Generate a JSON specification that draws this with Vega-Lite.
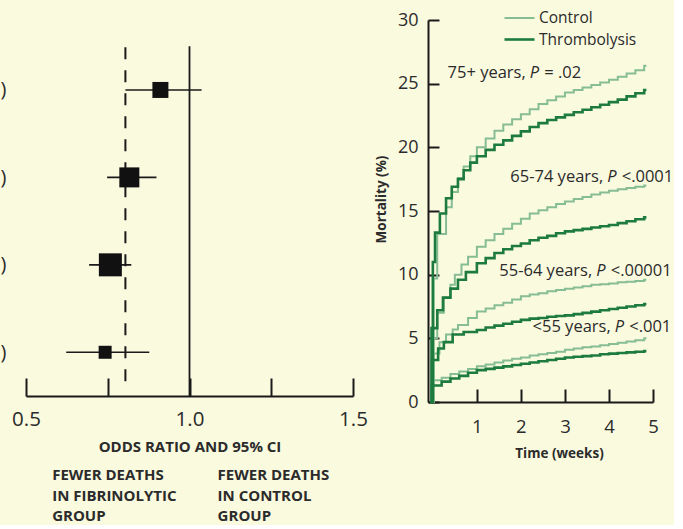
{
"$schema":"https://vega.github.io/schema/vega-lite/v6.json",
"background":"#fafadf",
"padding":{"left":0,"top":7,"right":0,"bottom":0},
"bounds":"flush",
"spacing":75,
"config":{"font":"Open Sans","view":{"stroke":null},
 "axis":{"grid":false,"labelColor":"#2b2b2b","titleColor":"#2b2b2b","domainColor":"#1a1a1a","tickColor":"#1a1a1a","labelFont":"Open Sans","titleFont":"Open Sans","labelFlush":false,"labelOverlap":false},
 "text":{"font":"Open Sans","color":"#2b2b2b"}},
"datasets":{
"forest":[
{"age":"75+","row":4,"or":0.911,"lo":0.804,"hi":1.037,"weight":2.56},
{"age":"65-74","row":3,"or":0.816,"lo":0.748,"hi":0.899,"weight":4.0},
{"age":"55-64","row":2,"or":0.758,"lo":0.693,"hi":0.822,"weight":5.29},
{"age":"<55","row":1,"or":0.742,"lo":0.623,"hi":0.877,"weight":1.69}],
"refs":[{"kind":"no effect","or":1.0,"from":0.5,"to":4.5},{"kind":"overall","or":0.804,"from":0.67,"to":4.5}],
"captions":[{"x":0.58,"y":-0.466,"text":"FEWER DEATHS\nIN FIBRINOLYTIC\nGROUP"},{"x":1.086,"y":-0.466,"text":"FEWER DEATHS\nIN CONTROL\nGROUP"}],
"notes":[
{"age":"75+","week":2.2,"mortality":25.8,"pre":"75+ years,","post":"= .02"},
{"age":"65-74","week":3.96,"mortality":17.7,"pre":"65-74 years,","post":"<.0001"},
{"age":"55-64","week":3.71,"mortality":10.3,"pre":"55-64 years,","post":"<.00001"},
{"age":"<55","week":4.13,"mortality":5.9,"pre":"<55 years,","post":"<.001"}],
"km":[
{"age":"75+","arm":"Control","week":-0.05,"mortality":0},{"age":"75+","arm":"Control","week":0.02,"mortality":9.7},{"age":"75+","arm":"Control","week":0.1,"mortality":13.2},{"age":"75+","arm":"Control","week":0.3,"mortality":15.3},{"age":"75+","arm":"Control","week":0.43,"mortality":16.5},{"age":"75+","arm":"Control","week":0.57,"mortality":17.6},{"age":"75+","arm":"Control","week":0.7,"mortality":18.5},{"age":"75+","arm":"Control","week":0.85,"mortality":19.3},{"age":"75+","arm":"Control","week":1.0,"mortality":20.0},{"age":"75+","arm":"Control","week":1.2,"mortality":20.7},{"age":"75+","arm":"Control","week":1.4,"mortality":21.3},{"age":"75+","arm":"Control","week":1.6,"mortality":21.8},{"age":"75+","arm":"Control","week":1.8,"mortality":22.2},{"age":"75+","arm":"Control","week":2.0,"mortality":22.6},{"age":"75+","arm":"Control","week":2.2,"mortality":23.0},{"age":"75+","arm":"Control","week":2.4,"mortality":23.4},{"age":"75+","arm":"Control","week":2.6,"mortality":23.7},{"age":"75+","arm":"Control","week":2.8,"mortality":24.0},{"age":"75+","arm":"Control","week":3.0,"mortality":24.3},{"age":"75+","arm":"Control","week":3.2,"mortality":24.5},{"age":"75+","arm":"Control","week":3.4,"mortality":24.7},{"age":"75+","arm":"Control","week":3.6,"mortality":24.9},{"age":"75+","arm":"Control","week":3.8,"mortality":25.1},{"age":"75+","arm":"Control","week":4.0,"mortality":25.3},{"age":"75+","arm":"Control","week":4.2,"mortality":25.55},{"age":"75+","arm":"Control","week":4.4,"mortality":25.8},{"age":"75+","arm":"Control","week":4.6,"mortality":26.05},{"age":"75+","arm":"Control","week":4.8,"mortality":26.4},{"age":"75+","arm":"Control","week":4.85,"mortality":26.4},
{"age":"65-74","arm":"Control","week":-0.05,"mortality":0},{"age":"65-74","arm":"Control","week":0.0,"mortality":5.0},{"age":"65-74","arm":"Control","week":0.1,"mortality":7.0},{"age":"65-74","arm":"Control","week":0.25,"mortality":8.2},{"age":"65-74","arm":"Control","week":0.4,"mortality":9.2},{"age":"65-74","arm":"Control","week":0.5,"mortality":10.0},{"age":"65-74","arm":"Control","week":0.65,"mortality":10.8},{"age":"65-74","arm":"Control","week":0.8,"mortality":11.4},{"age":"65-74","arm":"Control","week":1.0,"mortality":12.2},{"age":"65-74","arm":"Control","week":1.2,"mortality":12.7},{"age":"65-74","arm":"Control","week":1.4,"mortality":13.2},{"age":"65-74","arm":"Control","week":1.6,"mortality":13.6},{"age":"65-74","arm":"Control","week":1.8,"mortality":14.0},{"age":"65-74","arm":"Control","week":2.0,"mortality":14.4},{"age":"65-74","arm":"Control","week":2.2,"mortality":14.8},{"age":"65-74","arm":"Control","week":2.4,"mortality":15.05},{"age":"65-74","arm":"Control","week":2.6,"mortality":15.3},{"age":"65-74","arm":"Control","week":2.8,"mortality":15.55},{"age":"65-74","arm":"Control","week":3.0,"mortality":15.75},{"age":"65-74","arm":"Control","week":3.2,"mortality":15.95},{"age":"65-74","arm":"Control","week":3.4,"mortality":16.1},{"age":"65-74","arm":"Control","week":3.6,"mortality":16.3},{"age":"65-74","arm":"Control","week":3.8,"mortality":16.45},{"age":"65-74","arm":"Control","week":4.0,"mortality":16.6},{"age":"65-74","arm":"Control","week":4.2,"mortality":16.7},{"age":"65-74","arm":"Control","week":4.4,"mortality":16.8},{"age":"65-74","arm":"Control","week":4.6,"mortality":16.9},{"age":"65-74","arm":"Control","week":4.8,"mortality":17.0},{"age":"65-74","arm":"Control","week":4.85,"mortality":17.0},
{"age":"55-64","arm":"Control","week":-0.05,"mortality":0},{"age":"55-64","arm":"Control","week":0.02,"mortality":3.8},{"age":"55-64","arm":"Control","week":0.15,"mortality":4.7},{"age":"55-64","arm":"Control","week":0.3,"mortality":5.3},{"age":"55-64","arm":"Control","week":0.45,"mortality":5.7},{"age":"55-64","arm":"Control","week":0.57,"mortality":6.05},{"age":"55-64","arm":"Control","week":0.8,"mortality":6.6},{"age":"55-64","arm":"Control","week":1.0,"mortality":7.1},{"age":"55-64","arm":"Control","week":1.2,"mortality":7.35},{"age":"55-64","arm":"Control","week":1.4,"mortality":7.6},{"age":"55-64","arm":"Control","week":1.6,"mortality":7.8},{"age":"55-64","arm":"Control","week":1.8,"mortality":8.05},{"age":"55-64","arm":"Control","week":2.0,"mortality":8.3},{"age":"55-64","arm":"Control","week":2.2,"mortality":8.45},{"age":"55-64","arm":"Control","week":2.4,"mortality":8.55},{"age":"55-64","arm":"Control","week":2.6,"mortality":8.7},{"age":"55-64","arm":"Control","week":2.8,"mortality":8.8},{"age":"55-64","arm":"Control","week":3.0,"mortality":8.9},{"age":"55-64","arm":"Control","week":3.2,"mortality":9.0},{"age":"55-64","arm":"Control","week":3.4,"mortality":9.1},{"age":"55-64","arm":"Control","week":3.6,"mortality":9.2},{"age":"55-64","arm":"Control","week":3.8,"mortality":9.25},{"age":"55-64","arm":"Control","week":4.0,"mortality":9.3},{"age":"55-64","arm":"Control","week":4.2,"mortality":9.4},{"age":"55-64","arm":"Control","week":4.4,"mortality":9.45},{"age":"55-64","arm":"Control","week":4.6,"mortality":9.5},{"age":"55-64","arm":"Control","week":4.8,"mortality":9.6},{"age":"55-64","arm":"Control","week":4.85,"mortality":9.6},
{"age":"<55","arm":"Control","week":-0.05,"mortality":0},{"age":"<55","arm":"Control","week":0.0,"mortality":1.7},{"age":"<55","arm":"Control","week":0.2,"mortality":1.9},{"age":"<55","arm":"Control","week":0.4,"mortality":2.2},{"age":"<55","arm":"Control","week":0.6,"mortality":2.4},{"age":"<55","arm":"Control","week":0.8,"mortality":2.6},{"age":"<55","arm":"Control","week":1.0,"mortality":2.8},{"age":"<55","arm":"Control","week":1.2,"mortality":2.95},{"age":"<55","arm":"Control","week":1.4,"mortality":3.1},{"age":"<55","arm":"Control","week":1.6,"mortality":3.25},{"age":"<55","arm":"Control","week":1.8,"mortality":3.4},{"age":"<55","arm":"Control","week":2.0,"mortality":3.5},{"age":"<55","arm":"Control","week":2.2,"mortality":3.65},{"age":"<55","arm":"Control","week":2.4,"mortality":3.75},{"age":"<55","arm":"Control","week":2.6,"mortality":3.85},{"age":"<55","arm":"Control","week":2.8,"mortality":3.95},{"age":"<55","arm":"Control","week":3.0,"mortality":4.1},{"age":"<55","arm":"Control","week":3.2,"mortality":4.2},{"age":"<55","arm":"Control","week":3.4,"mortality":4.3},{"age":"<55","arm":"Control","week":3.6,"mortality":4.35},{"age":"<55","arm":"Control","week":3.8,"mortality":4.45},{"age":"<55","arm":"Control","week":4.0,"mortality":4.55},{"age":"<55","arm":"Control","week":4.2,"mortality":4.65},{"age":"<55","arm":"Control","week":4.4,"mortality":4.75},{"age":"<55","arm":"Control","week":4.6,"mortality":4.85},{"age":"<55","arm":"Control","week":4.8,"mortality":5.0},{"age":"<55","arm":"Control","week":4.85,"mortality":5.0},
{"age":"75+","arm":"Thrombolysis","week":-0.06,"mortality":0},{"age":"75+","arm":"Thrombolysis","week":0.0,"mortality":11.0},{"age":"75+","arm":"Thrombolysis","week":0.05,"mortality":13.3},{"age":"75+","arm":"Thrombolysis","week":0.16,"mortality":14.8},{"age":"75+","arm":"Thrombolysis","week":0.3,"mortality":16.0},{"age":"75+","arm":"Thrombolysis","week":0.43,"mortality":16.9},{"age":"75+","arm":"Thrombolysis","week":0.57,"mortality":17.5},{"age":"75+","arm":"Thrombolysis","week":0.7,"mortality":18.2},{"age":"75+","arm":"Thrombolysis","week":0.85,"mortality":18.8},{"age":"75+","arm":"Thrombolysis","week":1.0,"mortality":19.3},{"age":"75+","arm":"Thrombolysis","week":1.2,"mortality":19.8},{"age":"75+","arm":"Thrombolysis","week":1.4,"mortality":20.2},{"age":"75+","arm":"Thrombolysis","week":1.6,"mortality":20.55},{"age":"75+","arm":"Thrombolysis","week":1.8,"mortality":20.9},{"age":"75+","arm":"Thrombolysis","week":2.0,"mortality":21.25},{"age":"75+","arm":"Thrombolysis","week":2.2,"mortality":21.6},{"age":"75+","arm":"Thrombolysis","week":2.4,"mortality":21.9},{"age":"75+","arm":"Thrombolysis","week":2.6,"mortality":22.15},{"age":"75+","arm":"Thrombolysis","week":2.8,"mortality":22.35},{"age":"75+","arm":"Thrombolysis","week":3.0,"mortality":22.55},{"age":"75+","arm":"Thrombolysis","week":3.2,"mortality":22.75},{"age":"75+","arm":"Thrombolysis","week":3.4,"mortality":22.95},{"age":"75+","arm":"Thrombolysis","week":3.6,"mortality":23.15},{"age":"75+","arm":"Thrombolysis","week":3.8,"mortality":23.35},{"age":"75+","arm":"Thrombolysis","week":4.0,"mortality":23.55},{"age":"75+","arm":"Thrombolysis","week":4.2,"mortality":23.75},{"age":"75+","arm":"Thrombolysis","week":4.4,"mortality":24.0},{"age":"75+","arm":"Thrombolysis","week":4.6,"mortality":24.25},{"age":"75+","arm":"Thrombolysis","week":4.8,"mortality":24.5},{"age":"75+","arm":"Thrombolysis","week":4.85,"mortality":24.5},
{"age":"65-74","arm":"Thrombolysis","week":-0.06,"mortality":0},{"age":"65-74","arm":"Thrombolysis","week":-0.03,"mortality":5.8},{"age":"65-74","arm":"Thrombolysis","week":0.1,"mortality":7.2},{"age":"65-74","arm":"Thrombolysis","week":0.23,"mortality":8.2},{"age":"65-74","arm":"Thrombolysis","week":0.4,"mortality":8.9},{"age":"65-74","arm":"Thrombolysis","week":0.57,"mortality":9.6},{"age":"65-74","arm":"Thrombolysis","week":0.75,"mortality":10.2},{"age":"65-74","arm":"Thrombolysis","week":1.0,"mortality":10.9},{"age":"65-74","arm":"Thrombolysis","week":1.2,"mortality":11.3},{"age":"65-74","arm":"Thrombolysis","week":1.4,"mortality":11.7},{"age":"65-74","arm":"Thrombolysis","week":1.6,"mortality":12.0},{"age":"65-74","arm":"Thrombolysis","week":1.8,"mortality":12.25},{"age":"65-74","arm":"Thrombolysis","week":2.0,"mortality":12.45},{"age":"65-74","arm":"Thrombolysis","week":2.2,"mortality":12.7},{"age":"65-74","arm":"Thrombolysis","week":2.4,"mortality":12.9},{"age":"65-74","arm":"Thrombolysis","week":2.6,"mortality":13.05},{"age":"65-74","arm":"Thrombolysis","week":2.8,"mortality":13.25},{"age":"65-74","arm":"Thrombolysis","week":3.0,"mortality":13.4},{"age":"65-74","arm":"Thrombolysis","week":3.2,"mortality":13.5},{"age":"65-74","arm":"Thrombolysis","week":3.4,"mortality":13.6},{"age":"65-74","arm":"Thrombolysis","week":3.6,"mortality":13.7},{"age":"65-74","arm":"Thrombolysis","week":3.8,"mortality":13.8},{"age":"65-74","arm":"Thrombolysis","week":4.0,"mortality":13.9},{"age":"65-74","arm":"Thrombolysis","week":4.2,"mortality":14.05},{"age":"65-74","arm":"Thrombolysis","week":4.4,"mortality":14.2},{"age":"65-74","arm":"Thrombolysis","week":4.6,"mortality":14.35},{"age":"65-74","arm":"Thrombolysis","week":4.8,"mortality":14.5},{"age":"65-74","arm":"Thrombolysis","week":4.85,"mortality":14.5},
{"age":"55-64","arm":"Thrombolysis","week":-0.06,"mortality":0},{"age":"55-64","arm":"Thrombolysis","week":-0.02,"mortality":3.3},{"age":"55-64","arm":"Thrombolysis","week":0.12,"mortality":4.2},{"age":"55-64","arm":"Thrombolysis","week":0.25,"mortality":4.7},{"age":"55-64","arm":"Thrombolysis","week":0.45,"mortality":5.3},{"age":"55-64","arm":"Thrombolysis","week":0.7,"mortality":5.5},{"age":"55-64","arm":"Thrombolysis","week":1.0,"mortality":5.65},{"age":"55-64","arm":"Thrombolysis","week":1.2,"mortality":5.85},{"age":"55-64","arm":"Thrombolysis","week":1.4,"mortality":6.0},{"age":"55-64","arm":"Thrombolysis","week":1.6,"mortality":6.15},{"age":"55-64","arm":"Thrombolysis","week":1.8,"mortality":6.3},{"age":"55-64","arm":"Thrombolysis","week":2.0,"mortality":6.45},{"age":"55-64","arm":"Thrombolysis","week":2.2,"mortality":6.55},{"age":"55-64","arm":"Thrombolysis","week":2.4,"mortality":6.6},{"age":"55-64","arm":"Thrombolysis","week":2.6,"mortality":6.7},{"age":"55-64","arm":"Thrombolysis","week":2.8,"mortality":6.75},{"age":"55-64","arm":"Thrombolysis","week":3.0,"mortality":6.8},{"age":"55-64","arm":"Thrombolysis","week":3.2,"mortality":6.9},{"age":"55-64","arm":"Thrombolysis","week":3.4,"mortality":7.0},{"age":"55-64","arm":"Thrombolysis","week":3.6,"mortality":7.1},{"age":"55-64","arm":"Thrombolysis","week":3.8,"mortality":7.2},{"age":"55-64","arm":"Thrombolysis","week":4.0,"mortality":7.3},{"age":"55-64","arm":"Thrombolysis","week":4.2,"mortality":7.4},{"age":"55-64","arm":"Thrombolysis","week":4.4,"mortality":7.5},{"age":"55-64","arm":"Thrombolysis","week":4.6,"mortality":7.6},{"age":"55-64","arm":"Thrombolysis","week":4.8,"mortality":7.7},{"age":"55-64","arm":"Thrombolysis","week":4.85,"mortality":7.7},
{"age":"<55","arm":"Thrombolysis","week":-0.06,"mortality":0},{"age":"<55","arm":"Thrombolysis","week":-0.02,"mortality":1.3},{"age":"<55","arm":"Thrombolysis","week":0.2,"mortality":1.6},{"age":"<55","arm":"Thrombolysis","week":0.4,"mortality":1.85},{"age":"<55","arm":"Thrombolysis","week":0.6,"mortality":2.05},{"age":"<55","arm":"Thrombolysis","week":0.8,"mortality":2.3},{"age":"<55","arm":"Thrombolysis","week":1.0,"mortality":2.5},{"age":"<55","arm":"Thrombolysis","week":1.2,"mortality":2.6},{"age":"<55","arm":"Thrombolysis","week":1.4,"mortality":2.7},{"age":"<55","arm":"Thrombolysis","week":1.6,"mortality":2.8},{"age":"<55","arm":"Thrombolysis","week":1.8,"mortality":2.9},{"age":"<55","arm":"Thrombolysis","week":2.0,"mortality":3.0},{"age":"<55","arm":"Thrombolysis","week":2.2,"mortality":3.1},{"age":"<55","arm":"Thrombolysis","week":2.4,"mortality":3.2},{"age":"<55","arm":"Thrombolysis","week":2.6,"mortality":3.3},{"age":"<55","arm":"Thrombolysis","week":2.8,"mortality":3.4},{"age":"<55","arm":"Thrombolysis","week":3.0,"mortality":3.5},{"age":"<55","arm":"Thrombolysis","week":3.2,"mortality":3.55},{"age":"<55","arm":"Thrombolysis","week":3.4,"mortality":3.6},{"age":"<55","arm":"Thrombolysis","week":3.6,"mortality":3.65},{"age":"<55","arm":"Thrombolysis","week":3.8,"mortality":3.75},{"age":"<55","arm":"Thrombolysis","week":4.0,"mortality":3.8},{"age":"<55","arm":"Thrombolysis","week":4.2,"mortality":3.85},{"age":"<55","arm":"Thrombolysis","week":4.4,"mortality":3.9},{"age":"<55","arm":"Thrombolysis","week":4.6,"mortality":3.95},{"age":"<55","arm":"Thrombolysis","week":4.8,"mortality":4.0},{"age":"<55","arm":"Thrombolysis","week":4.85,"mortality":4.0}
]},
"hconcat":[
{"width":327,"height":376,
 "layer":[
  {"data":{"name":"refs"},"transform":[{"filter":"datum.kind == 'no effect'"}],
   "mark":{"type":"rule","color":"#1a1a1a","strokeWidth":1.8},
   "encoding":{
    "x":{"field":"or","type":"quantitative","scale":{"domain":[0.5,1.5],"nice":false,"zero":false},
      "axis":{"values":[0.5,0.75,1,1.25,1.5],"labelExpr":"datum.value == 0.75 || datum.value == 1.25 ? '' : format(datum.value, '.1f')","tickSize":-18,"tickWidth":2,"domainWidth":2,"labelFontSize":20.5,"labelPadding":31,"title":"ODDS RATIO AND 95% CI","titleFontSize":15,"titleFontWeight":"bold","titlePadding":10}},
    "y":{"field":"from","type":"quantitative","scale":{"domain":[0.5,4.8],"nice":false,"zero":false},
      "axis":{"values":[1,2,3,4],"labelExpr":"')'","domain":false,"ticks":false,"labelFontSize":20,"labelPadding":20,"title":null}},
    "y2":{"field":"to"}}},
  {"data":{"name":"refs"},"transform":[{"filter":"datum.kind == 'overall'"}],
   "mark":{"type":"rule","color":"#1a1a1a","strokeWidth":2,"strokeDash":[12,11]},
   "encoding":{"x":{"field":"or","type":"quantitative"},"y":{"field":"from","type":"quantitative"},"y2":{"field":"to"}}},
  {"data":{"name":"forest"},
   "mark":{"type":"rule","color":"#1a1a1a","strokeWidth":1.6},
   "encoding":{"x":{"field":"lo","type":"quantitative"},"x2":{"field":"hi"},"y":{"field":"row","type":"quantitative"}}},
  {"data":{"name":"forest"},
   "mark":{"type":"square","color":"#111111","opacity":1,"filled":true},
   "encoding":{"x":{"field":"or","type":"quantitative"},"y":{"field":"row","type":"quantitative"},
    "size":{"field":"weight","type":"quantitative","scale":{"domain":[0,5.29],"range":[0,529]},"legend":null}}},
  {"mark":{"type":"rule","color":"#1a1a1a","strokeWidth":1.8},
   "encoding":{"x":{"datum":0.5,"type":"quantitative"},"x2":{"datum":1.5},"y":{"datum":-0.232,"type":"quantitative"}}},
  {"data":{"name":"captions"},
   "mark":{"type":"text","align":"left","baseline":"alphabetic","fontSize":15,"fontWeight":"bold","lineBreak":"\n","lineHeight":20.5},
   "encoding":{"x":{"field":"x","type":"quantitative"},"y":{"field":"y","type":"quantitative"},"text":{"field":"text"}}}
 ]},
{"width":225,"height":382,
 "layer":[
  {"data":{"name":"km"},
   "mark":{"type":"line","interpolate":"step-after"},
   "encoding":{
    "x":{"field":"week","type":"quantitative","scale":{"domain":[-0.11,5],"nice":false,"zero":false},
      "axis":{"values":[1,2,3,4,5],"tickSize":-13,"tickWidth":2,"domainWidth":2,"labelFontSize":18.5,"labelPadding":28,"title":"Time (weeks)","titleFontSize":13.5,"titleFontWeight":"bold","titlePadding":11,"titleX":131}},
    "y":{"field":"mortality","type":"quantitative","scale":{"domain":[0,30],"nice":false},
      "axis":{"values":[0,5,10,15,20,25,30],"tickSize":-11,"tickWidth":2,"domainWidth":2,"labelFontSize":18,"labelPadding":21,"title":"Mortality (%)","titleFontSize":13.5,"titleFontWeight":"bold","titleX":-47,"titleY":179,"titleBaseline":"middle"}},
    "color":{"field":"arm","type":"nominal","scale":{"domain":["Control","Thrombolysis"],"range":["#86bd93","#1d7b3f"]},
      "legend":{"title":null,"orient":"none","legendX":482,"legendY":-13,"symbolType":"M-1.5,0L1.5,0","symbolSize":400,"symbolStrokeWidth":3,"labelFontSize":15.5,"labelColor":"#2b2b2b","labelFont":"Open Sans","rowPadding":1,"labelOffset":8,"padding":0}},
    "strokeWidth":{"field":"arm","type":"nominal","scale":{"domain":["Control","Thrombolysis"],"range":[2,2.6]},"legend":null},
    "detail":{"field":"age"}}},
  {"data":{"name":"notes"},"mark":{"type":"text","align":"right","baseline":"middle","dx":-4,"fontSize":16.5},
   "encoding":{"x":{"field":"week","type":"quantitative"},"y":{"field":"mortality","type":"quantitative"},"text":{"field":"pre"}}},
  {"data":{"name":"notes"},"mark":{"type":"text","align":"left","baseline":"middle","fontSize":16.5,"fontStyle":"italic"},
   "encoding":{"x":{"field":"week","type":"quantitative"},"y":{"field":"mortality","type":"quantitative"},"text":{"value":"P"}}},
  {"data":{"name":"notes"},"mark":{"type":"text","align":"left","baseline":"middle","dx":14.5,"fontSize":16.5},
   "encoding":{"x":{"field":"week","type":"quantitative"},"y":{"field":"mortality","type":"quantitative"},"text":{"field":"post"}}}
 ]}
]
}
